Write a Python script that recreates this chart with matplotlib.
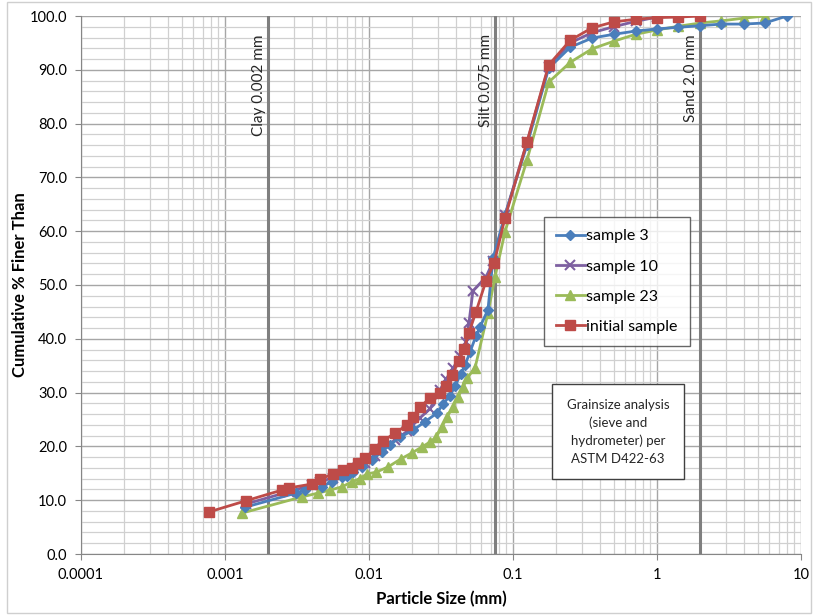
import numpy as np
import matplotlib.pyplot as plt
from matplotlib.patches import Rectangle
from matplotlib.ticker import LogLocator, FixedLocator, NullFormatter

plt.rcParams['font.family'] = ['Lato', 'DejaVu Sans']

# particle size (mm) and cumulative % finer
s3_x = [0.00138, 0.0031, 0.0036, 0.0047, 0.0055, 0.0065, 0.0070, 0.0077, 0.0089, 0.0105,
        0.0123, 0.014, 0.0164, 0.0202, 0.0245, 0.0297, 0.0327, 0.0365, 0.0396, 0.0435,
        0.0464, 0.0502, 0.0553, 0.059, 0.067, 0.0727, 0.088, 0.125, 0.177, 0.25,
        0.354, 0.5, 0.71, 1.0, 1.41, 2.0, 2.8, 4.0, 5.6, 8.0]
s3_y = [8.7, 11.3, 11.9, 12.5, 13.4, 14.3, 14.5, 15.2, 16.2, 17.5,
        19.0, 20.3, 21.7, 23.0, 24.6, 26.2, 27.9, 29.4, 31.2, 33.5,
        35.1, 37.5, 40.5, 42.2, 45.4, 55.0, 63.0, 76.0, 90.3, 94.2,
        95.9, 96.6, 97.2, 97.6, 97.9, 98.2, 98.5, 98.5, 98.7, 100.0]

s10_x = [0.0014, 0.0028, 0.004, 0.0046, 0.0056, 0.0066, 0.0076, 0.0084, 0.0094, 0.011,
         0.0125, 0.0152, 0.0184, 0.0202, 0.0226, 0.0265, 0.0311, 0.0345, 0.0383, 0.0428,
         0.0472, 0.0494, 0.0527, 0.065, 0.073, 0.088, 0.125, 0.177, 0.25, 0.354,
         0.5, 0.71, 1.0]
s10_y = [9.3, 11.6, 12.8, 13.4, 14.2, 15.0, 15.6, 16.2, 17.0, 18.3,
         19.7, 21.2, 22.8, 24.0, 25.3, 27.0, 30.5, 32.6, 34.5, 36.8,
         39.4, 42.9, 48.9, 51.5, 54.5, 63.0, 76.5, 90.6, 95.0, 96.9,
         98.0, 99.0, 99.8]

s23_x = [0.00131, 0.0034, 0.0044, 0.0054, 0.0065, 0.0076, 0.0086, 0.0097, 0.0112, 0.0136,
         0.0167, 0.0199, 0.0233, 0.0265, 0.0292, 0.0321, 0.0348, 0.0383, 0.0415, 0.045,
         0.048, 0.0545, 0.067, 0.075, 0.088, 0.125, 0.177, 0.25, 0.354, 0.5,
         0.71, 1.0, 1.41, 2.0, 2.8, 4.0, 5.6]
s23_y = [7.6, 10.6, 11.3, 11.9, 12.5, 13.4, 14.0, 14.9, 15.2, 16.2,
         17.7, 18.8, 19.9, 20.8, 21.7, 23.6, 25.5, 27.3, 29.2, 31.0,
         32.7, 34.6, 44.8, 51.5, 59.9, 73.2, 87.7, 91.4, 93.9, 95.3,
         96.6, 97.4, 98.1, 98.7, 99.1, 99.6, 100.0]

init_x = [0.00077, 0.0014, 0.0025, 0.0028, 0.0040, 0.0046, 0.0056, 0.0066, 0.0076, 0.0084,
          0.0094, 0.0110, 0.0125, 0.0152, 0.0184, 0.0202, 0.0226, 0.0265, 0.0311, 0.0343,
          0.0377, 0.0422, 0.0457, 0.0494, 0.0553, 0.065, 0.074, 0.088, 0.125, 0.177,
          0.25, 0.354, 0.5, 0.71, 1.0, 1.41, 2.0]
init_y = [7.8, 9.9, 11.9, 12.3, 13.0, 13.9, 14.9, 15.6, 16.0, 16.9,
          17.8, 19.5, 21.0, 22.5, 24.0, 25.5, 27.3, 29.0, 29.9, 31.2,
          33.3, 35.9, 38.1, 41.1, 45.0, 50.8, 54.1, 62.5, 76.6, 90.9,
          95.5, 97.8, 98.9, 99.4, 99.7, 99.8, 100.0]

limits = [0.002, 0.075, 2.0]
limit_labels = ['Clay 0.002 mm', 'Silt 0.075 mm', 'Sand 2.0 mm']

fig = plt.figure(figsize=(8.17, 6.15), dpi=100)
ax = fig.add_axes([81 / 817, 1 - 554 / 615, 720 / 817, 538 / 615])

ax.set_xscale('log')
ax.set_xlim(0.0001, 10)
ax.set_ylim(0, 100)

# grid like the excel chart
ax.xaxis.set_major_locator(LogLocator(base=10, numticks=10))
ax.xaxis.set_minor_locator(LogLocator(base=10, subs=np.arange(2, 10), numticks=50))
ax.xaxis.set_minor_formatter(NullFormatter())
ax.yaxis.set_major_locator(FixedLocator(np.arange(0, 101, 10)))
ax.yaxis.set_minor_locator(FixedLocator(np.arange(0, 101, 2)))
ax.grid(which='major', color='#a6a6a6', lw=1.0)
ax.grid(which='minor', color='#d0d0d0', lw=0.9)
ax.set_axisbelow(True)
ax.xaxis.set_major_formatter(plt.FuncFormatter(lambda v, p: ('%g' % v)))
ax.yaxis.set_major_formatter(plt.FuncFormatter(lambda v, p: '%.1f' % v))
ax.tick_params(which='major', labelsize=10.5, length=4, color='#868686', pad=6)
ax.tick_params(which='minor', length=0)
for sp in ax.spines.values():
    sp.set_visible(False)
ax.spines['left'].set_visible(True)
ax.spines['bottom'].set_visible(True)
ax.spines['left'].set_color('#868686')
ax.spines['bottom'].set_color('#868686')

for xv, lab in zip(limits, limit_labels):
    ax.axvline(xv, color='#7f7f7f', lw=2.2, zorder=2)
    ax.text(xv / 1.03, 96.6, lab, rotation=90, ha='right', va='top', fontsize=11, color='#262626')

ax.plot(s3_x, s3_y, color='#4a7ebb', lw=2, marker='D', ms=5, label='sample 3', zorder=4)
ax.plot(s10_x, s10_y, color='#7d5fa0', lw=2, marker='x', ms=7, mew=1.5, label='sample 10', zorder=3)
ax.plot(s23_x, s23_y, color='#9bbb59', lw=2, marker='^', ms=7, label='sample 23', zorder=3)
ax.plot(init_x, init_y, color='#be4b48', lw=2, marker='s', ms=7, label='initial sample', zorder=5)

leg = ax.legend(loc='upper left', bbox_to_anchor=(0.643, 0.626), fontsize=11.5, frameon=True,
                fancybox=False, edgecolor='#404040', labelspacing=1.0, handlelength=1.8,
                handletextpad=0.1, borderpad=0.75, borderaxespad=0)
leg.get_frame().set_linewidth(1.0)

ax.text(0.746, 0.227, 'Grainsize analysis\n(sieve and\nhydrometer) per\nASTM D422-63',
        transform=ax.transAxes, ha='center', va='center', fontsize=9.5, linespacing=1.55,
        color='#262626',
        bbox=dict(boxstyle='square,pad=1.1', fc='white', ec='#404040', lw=1.0))

ax.set_xlabel('Particle Size (mm)', fontsize=12, fontweight='bold')
ax.set_ylabel('Cumulative % Finer Than', fontsize=12, fontweight='bold')
ax.xaxis.set_label_coords(0.5, -0.068)
ax.yaxis.set_label_coords(-0.073, 0.5)

fig.patches.append(Rectangle((7 / 817, 2 / 615), 804 / 817, 611 / 615, transform=fig.transFigure,
                             fill=False, ec='#cfcfcf', lw=1))

fig.savefig('out.png', dpi=100)
